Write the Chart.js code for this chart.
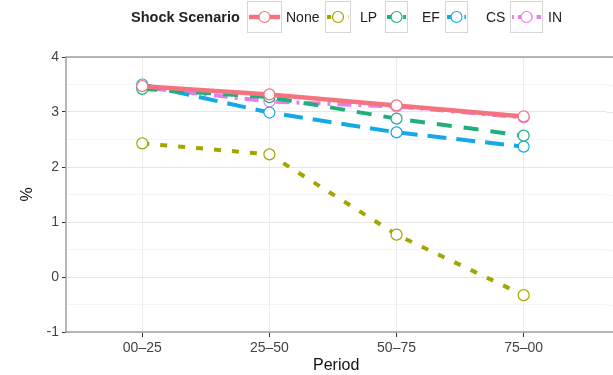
<!DOCTYPE html>
<html>
<head>
<meta charset="utf-8">
<script src="https://cdn.jsdelivr.net/npm/chart.js@4"></script>
<style>
  html, body { margin: 0; padding: 0; background: #fff; }
  #wrap { position: relative; width: 613px; height: 375px; font-family: "Liberation Sans", Arial, sans-serif; }
  #chart { position: absolute; left: 0; top: 0; }
  .lg { position: absolute; top: 0; height: 34px; line-height: 34px; font-size: 14px; color: #222; white-space: nowrap; }
  .lg-title { font-weight: bold; font-size: 14.5px; }
  .key { position: absolute; top: 1px; height: 32px; box-sizing: border-box; border: 1px solid #d6d6d6; }
</style>
</head>
<body>
<div id="wrap">
  <canvas id="chart" width="613" height="375"></canvas>
</div>
<script>
// Periods on the x axis and the growth rate (%) under each shock scenario
const periods = ["00\u201325", "25\u201350", "50\u201375", "75\u201300"];
const scenarioNames = ["None", "LP", "EF", "CS", "IN"];
const noneValues = [3.47, 3.32, 3.12, 2.92];
const lpValues   = [2.43, 2.23, 0.77, -0.33];
const efValues   = [3.42, 3.27, 2.88, 2.57];
const csValues   = [3.50, 2.99, 2.63, 2.37];
const inValues   = [3.45, 3.19, 3.10, 2.90];
const yTickValues = [-1, 0, 1, 2, 3, 4];

const styles = {
  None: { color: "#F4737E", dash: [],            width: 4.5 },
  LP:   { color: "#A3A500", dash: [7, 11],       width: 4 },
  EF:   { color: "#1DB07A", dash: [15, 12],      width: 4 },
  CS:   { color: "#14A9E6", dash: [19, 10],      width: 4 },
  IN:   { color: "#E27FEA", dash: [3, 7, 14, 7], width: 4 }
};
const seriesValues = { None: noneValues, LP: lpValues, EF: efValues, CS: csValues, IN: inValues };

const datasets = scenarioNames.map(name => ({
  label: name,
  data: seriesValues[name].map((v, i) => ({ x: i, y: v })),
  borderColor: styles[name].color,
  borderWidth: styles[name].width,
  borderDash: styles[name].dash,
  borderCapStyle: "butt",
  pointRadius: 5.5,
  pointBorderWidth: 1.2,
  pointBackgroundColor: "#ffffff",
  pointBorderColor: styles[name].color,
  tension: 0,
  fill: false
}));

// Legend drawn above the panel
const wrap = document.getElementById("wrap");
function addText(txt, left, cls) {
  const d = document.createElement("div");
  d.className = "lg" + (cls ? " " + cls : "");
  d.style.left = left + "px";
  d.textContent = txt;
  wrap.appendChild(d);
}
addText("Shock Scenario", 131, "lg-title");
const keyLeft = [247, 325, 385, 445, 510];
const keyWidth = [35, 26, 23, 23, 33];
const labelLeft = [286, 360, 422, 486, 548];
scenarioNames.forEach((name, i) => {
  const k = document.createElement("div");
  k.className = "key";
  k.style.left = keyLeft[i] + "px";
  k.style.width = keyWidth[i] + "px";
  const c = document.createElement("canvas");
  c.width = keyWidth[i] - 2; c.height = 30;
  c.style.display = "block";
  k.appendChild(c);
  wrap.appendChild(k);
  const g = c.getContext("2d");
  const st = styles[name];
  g.strokeStyle = st.color; g.lineWidth = st.width;
  g.setLineDash(st.dash.length ? st.dash.map(v => v * 0.6) : []);
  g.beginPath(); g.moveTo(1, 15); g.lineTo(c.width - 1, 15); g.stroke();
  g.setLineDash([]);
  g.lineWidth = 1.2; g.fillStyle = "#fff";
  g.beginPath(); g.arc(c.width / 2, 15, 5.5, 0, Math.PI * 2); g.fill(); g.stroke();
  addText(name, labelLeft[i]);
});

// Gray frame around the top, left and bottom of the panel, with the
// horizontal grid carried through to the right edge of the page
const framePlugin = {
  id: "frame",
  beforeDatasetsDraw(chart) {
    const a = chart.chartArea, ctx = chart.ctx, y = chart.scales.y;
    ctx.save();
    ctx.lineWidth = 1;
    y.ticks.forEach(t => {
      const py = Math.round(y.getPixelForValue(t.value)) + 0.5;
      ctx.strokeStyle = yTickValues.includes(t.value) ? "#e6e6e6" : "#f4f4f4";
      ctx.beginPath(); ctx.moveTo(a.right, py); ctx.lineTo(chart.width, py); ctx.stroke();
    });
    ctx.restore();
  },
  afterDraw(chart) {
    const a = chart.chartArea, ctx = chart.ctx;
    ctx.save();
    ctx.strokeStyle = "#a0a0a0";
    ctx.lineWidth = 1.5;
    ctx.beginPath();
    ctx.moveTo(chart.width, a.top); ctx.lineTo(a.left, a.top);
    ctx.lineTo(a.left, a.bottom); ctx.lineTo(chart.width, a.bottom);
    ctx.stroke();
    ctx.restore();
  }
};

new Chart(document.getElementById("chart"), {
  type: "line",
  data: { datasets },
  options: {
    responsive: false,
    animation: false,
    layout: { padding: { top: 57, right: 0, left: 0, bottom: 0 } },
    plugins: { legend: { display: false }, tooltip: { enabled: false } },
    scales: {
      x: {
        type: "linear",
        min: -0.6,
        max: 3.65,
        afterBuildTicks(scale) { scale.ticks = periods.map((p, i) => ({ value: i })); },
        afterFit(scale) { scale.height = 43; },
        grid: { color: "#ececec", lineWidth: 1, tickLength: 5, tickColor: "#333", drawOnChartArea: true },
        border: { display: false },
        ticks: {
          padding: 3,
          color: "#444",
          font: { family: "Liberation Sans", size: 14 },
          callback: v => periods[v] ?? ""
        },
        title: {
          display: true, text: "Period", color: "#111",
          font: { family: "Liberation Sans", size: 16 },
          padding: { top: 0, bottom: 0 }
        }
      },
      y: {
        min: -1,
        max: 4,
        afterBuildTicks(scale) {
          const t = [];
          for (let v = -1; v <= 4.001; v += 0.5) t.push({ value: Math.round(v * 2) / 2 });
          scale.ticks = t;
        },
        afterFit(scale) { scale.width = 66; },
        grid: {
          color: ctx => (yTickValues.includes(ctx.tick.value) ? "#e6e6e6" : "#f4f4f4"),
          lineWidth: 1,
          tickLength: 4,
          tickColor: ctx => (yTickValues.includes(ctx.tick.value) ? "#333" : "rgba(0,0,0,0)")
        },
        border: { display: false },
        ticks: {
          padding: 3,
          color: "#444",
          font: { family: "Liberation Sans", size: 14 },
          callback: v => (yTickValues.includes(v) ? String(v) : "")
        },
        title: {
          display: true, text: "%", color: "#111",
          font: { family: "Liberation Sans", size: 16 },
          padding: { top: 18, bottom: 0 }
        }
      }
    }
  },
  plugins: [framePlugin]
});
</script>
</body>
</html>
